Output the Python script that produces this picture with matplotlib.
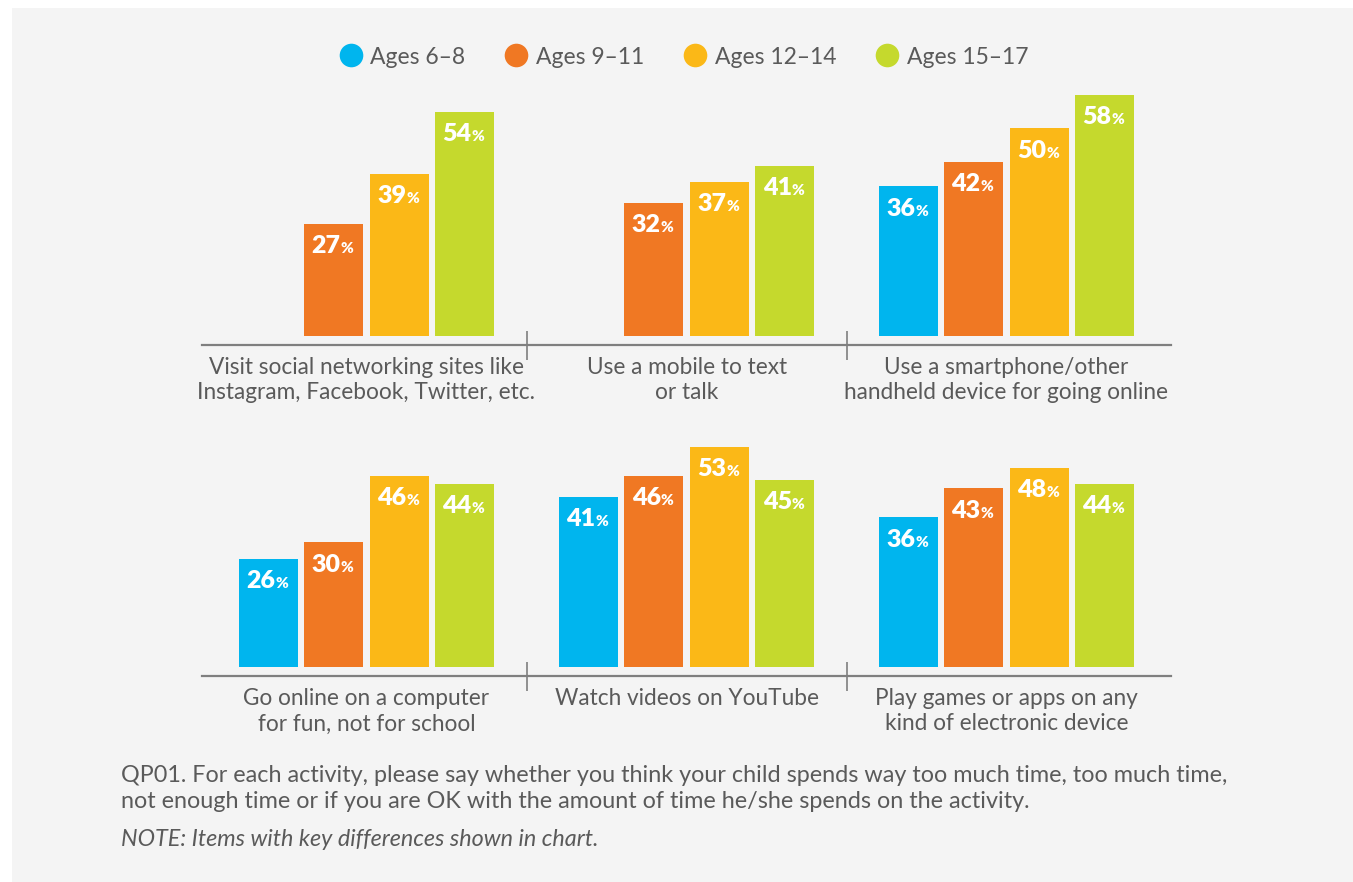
import numpy as np
import matplotlib
matplotlib.use("Agg")
import matplotlib.pyplot as plt
from matplotlib.patches import Rectangle
from matplotlib.lines import Line2D

# data
ages = ["Ages 6\u20138", "Ages 9\u201311", "Ages 12\u201314", "Ages 15\u201317"]
colors = ["#00b5ee", "#f07823", "#fbb817", "#c5d92d"]

top_labels = ["Visit social networking sites like\nInstagram, Facebook, Twitter, etc.",
              "Use a mobile to text\nor talk",
              "Use a smartphone/other\nhandheld device for going online"]
top_6_8 = [np.nan, np.nan, 36]
top_9_11 = [27, 32, 42]
top_12_14 = [39, 37, 50]
top_15_17 = [54, 41, 58]

bottom_labels = ["Go online on a computer\nfor fun, not for school",
                 "Watch videos on YouTube",
                 "Play games or apps on any\nkind of electronic device"]
bot_6_8 = [26, 41, 36]
bot_9_11 = [30, 46, 43]
bot_12_14 = [46, 53, 48]
bot_15_17 = [44, 45, 44]

plt.rcParams['font.family'] = ['Lato', 'DejaVu Sans']
TXT = "#5a5a5a"
LINE = "#7f7f7f"

W, H = 1353, 882
fig = plt.figure(figsize=(W / 100, H / 100), dpi=100, facecolor="white")
fig.patches.append(Rectangle((12 / W, 0), 1, 1 - 8 / H, transform=fig.transFigure,
                             facecolor="#f4f4f4", edgecolor="none", zorder=-10))

px_per_pct = 4.15
ymin, ymax = -2.2, 60
ax_h = (ymax - ymin) * px_per_pct
spacing = 65.5
left_px, right_px = 202, 1171
xmax = (right_px - left_px) / spacing
centers = np.array([2.51, 7.40, 12.28])


def draw_row(base_px, series, labels):
    ax = fig.add_axes([left_px / W, 1 - base_px / H, (right_px - left_px) / W, ax_h / H])
    ax.set_xlim(0, xmax)
    ax.set_ylim(ymin, ymax)
    ax.patch.set_visible(False)
    for s in ["top", "right", "left"]:
        ax.spines[s].set_visible(False)
    ax.spines["bottom"].set_color(LINE)
    ax.spines["bottom"].set_linewidth(1.6)
    ax.set_xticks([])
    ax.set_yticks([])

    for j, vals in enumerate(series):
        xs = centers + (j - 1.5)
        for x, v in zip(xs, vals):
            if np.isnan(v):
                continue
            ax.bar(x, v, width=0.9, color=colors[j], linewidth=0)
            ax.annotate(f"{v:.0f}", (x, v), xytext=(5, -21), textcoords="offset points",
                        ha="right", va="baseline", color="white", fontsize=18,
                        fontweight="heavy")
            ax.annotate("%", (x, v), xytext=(5, -21), textcoords="offset points",
                        ha="left", va="baseline", color="white", fontsize=11,
                        fontweight="heavy")

    seps = (centers[:-1] + centers[1:]) / 2
    half = 14.5 / px_per_pct
    ax.vlines(seps, ymin - half, ymin + half, color=LINE, linewidth=1.2, clip_on=False)

    for c, lab in zip(centers, labels):
        ax.annotate(lab, (c, 0), xycoords=("data", "axes fraction"), xytext=(0, -8.5),
                    textcoords="offset points", ha="center", va="top", fontsize=16.3,
                    color=TXT, linespacing=1.27)
    return ax


draw_row(345, [top_6_8, top_9_11, top_12_14, top_15_17], top_labels)
draw_row(676, [bot_6_8, bot_9_11, bot_12_14, bot_15_17], bottom_labels)

handles = [Line2D([], [], marker="o", linestyle="none", markersize=17,
                  markerfacecolor=c, markeredgecolor="none") for c in colors]
leg = fig.legend(handles, ages, loc="center", bbox_to_anchor=(0.505, 1 - 57 / H), ncol=4,
                 frameon=False, fontsize=16.5, handletextpad=0.3, columnspacing=1.68,
                 handlelength=1.1)
for t in leg.get_texts():
    t.set_color(TXT)

fig.text(121 / W, 1 - 775 / H,
         "QP01. For each activity, please say whether you think your child spends way too much time, too much time,",
         fontsize=16.8, color=TXT, va="center")
fig.text(121 / W, 1 - 801 / H,
         "not enough time or if you are OK with the amount of time he/she spends on the activity.",
         fontsize=16.8, color=TXT, va="center")
fig.text(121 / W, 1 - 839 / H, "NOTE: Items with key differences shown in chart.",
         fontsize=16.8, color=TXT, va="center", style="italic")

fig.savefig("out.png", dpi=100, facecolor=fig.get_facecolor())
